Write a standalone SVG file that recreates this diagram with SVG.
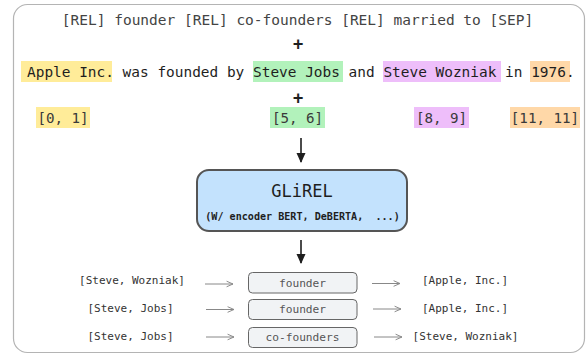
<svg xmlns="http://www.w3.org/2000/svg" width="586" height="354" viewBox="0 0 586 354">
<defs>
<style>
.mono{font-family:"DejaVu Sans Mono","Liberation Mono",monospace;}
.top{font-size:14.5px;fill:#444;}
.sent{font-size:14.45px;fill:#1e1e1e;}
.span{font-size:14.2px;fill:#3a3a3a;}
.plus{font-size:17px;font-weight:bold;fill:#1e1e1e;}
.small{font-size:11px;fill:#333;}
.rel{font-size:11.2px;fill:#555;}
.relbox{fill:#f1f3f5;stroke:#666;stroke-width:1;}
.conn{stroke:#888;stroke-width:1;fill:none;}
.main{stroke:#1e1e1e;stroke-width:1.6;fill:none;}
</style>
<marker id="open" viewBox="0 0 10 10" refX="9" refY="5" markerWidth="8" markerHeight="8" markerUnits="userSpaceOnUse" orient="auto">
<path d="M1,1.5 L9,5 L1,8.5" fill="none" stroke="#888" stroke-width="1.2"/>
</marker>
<marker id="solid" viewBox="0 0 10 10" refX="9" refY="5" markerWidth="10" markerHeight="10" markerUnits="userSpaceOnUse" orient="auto">
<path d="M0,0.5 L10,5 L0,9.5 Z" fill="#1e1e1e"/>
</marker>
</defs>
<rect x="13.5" y="4.5" width="571" height="348" rx="14" fill="#fff" stroke="#b4b4b4" stroke-width="1.2"/>

<g id="relation-prompt">
<text class="mono top" x="297.5" y="25" text-anchor="middle">[REL] founder [REL] co-founders [REL] married to [SEP]</text>
</g>
<g id="plus-1"><text class="mono plus" x="298" y="49.5" text-anchor="middle">+</text></g>

<g id="sentence">
<rect x="21" y="61" width="91" height="21" fill="#ffec99"/>
<rect x="253" y="61" width="90" height="21" fill="#b2f2bb"/>
<rect x="383" y="61" width="118" height="21" fill="#eebefa"/>
<rect x="530" y="61" width="40" height="21" fill="#ffd8a8"/>
<text class="mono sent" x="27" y="77">Apple Inc. was founded by Steve Jobs and Steve Wozniak in 1976.</text>
</g>
<g id="plus-2"><text class="mono plus" x="298" y="103.5" text-anchor="middle">+</text></g>

<g id="spans">
<rect x="36" y="107" width="54" height="21" fill="#ffec99"/>
<text class="mono span" x="63" y="123" text-anchor="middle">[0, 1]</text>
<rect x="270" y="107" width="55" height="21" fill="#b2f2bb"/>
<text class="mono span" x="297.5" y="123" text-anchor="middle">[5, 6]</text>
<rect x="414" y="107" width="55" height="21" fill="#eebefa"/>
<text class="mono span" x="441.5" y="123" text-anchor="middle">[8, 9]</text>
<rect x="510" y="107" width="70" height="21" fill="#ffd8a8"/>
<text class="mono span" x="545" y="123" text-anchor="middle">[11, 11]</text>
</g>

<g id="glirel">
<rect x="197" y="170" width="210" height="61" rx="12" fill="#c3e2fd" stroke="#555" stroke-width="2"/>
<text class="mono" x="302" y="197" text-anchor="middle" font-size="17" fill="#1e1e1e">GLiREL</text>
<text class="mono" x="302.5" y="220" text-anchor="middle" font-size="10.1" font-weight="bold" fill="#1e1e1e" xml:space="preserve" style="white-space:pre">(W/ encoder BERT, DeBERTA,  ...)</text>
</g>

<g id="row-1">
<text class="mono small" x="132" y="284" text-anchor="middle">[Steve, Wozniak]</text>
<rect class="relbox" x="248.5" y="272.5" width="108.5" height="20.5" rx="4"/>
<text class="mono rel" x="302.5" y="286.5" text-anchor="middle">founder</text>
<text class="mono small" x="465" y="284" text-anchor="middle">[Apple, Inc.]</text>
</g>
<g id="row-2">
<text class="mono small" x="130.5" y="311.5" text-anchor="middle">[Steve, Jobs]</text>
<rect class="relbox" x="248.5" y="299.5" width="108.5" height="20" rx="4"/>
<text class="mono rel" x="302.5" y="313" text-anchor="middle">founder</text>
<text class="mono small" x="465" y="311.5" text-anchor="middle">[Apple, Inc.]</text>
</g>
<g id="row-3">
<text class="mono small" x="130.5" y="339.5" text-anchor="middle">[Steve, Jobs]</text>
<rect class="relbox" x="248.5" y="327.5" width="108.5" height="20" rx="4"/>
<text class="mono rel" x="302.5" y="341" text-anchor="middle">co-founders</text>
<text class="mono small" x="465.5" y="339.5" text-anchor="middle">[Steve, Wozniak]</text>
</g>

<g id="connectors">
<line class="main" x1="301" y1="138" x2="301" y2="162" marker-end="url(#solid)"/>
<line class="main" x1="301" y1="240" x2="301" y2="263" marker-end="url(#solid)"/>
<line class="conn" x1="205" y1="284" x2="233" y2="284" marker-end="url(#open)"/>
<line class="conn" x1="372" y1="283.5" x2="400" y2="283.5" marker-end="url(#open)"/>
<line class="conn" x1="206" y1="309.5" x2="234" y2="309.5" marker-end="url(#open)"/>
<line class="conn" x1="373" y1="309" x2="401" y2="309" marker-end="url(#open)"/>
<line class="conn" x1="206" y1="337" x2="234" y2="337" marker-end="url(#open)"/>
<line class="conn" x1="374" y1="337" x2="402" y2="337" marker-end="url(#open)"/>
</g>
</svg>
